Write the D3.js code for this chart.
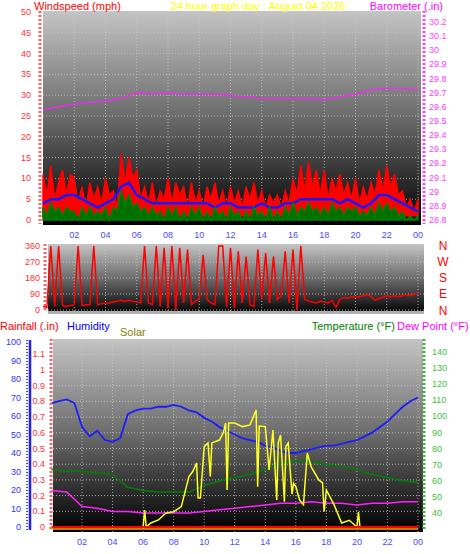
<!DOCTYPE html>
<html><head><meta charset="utf-8">
<script src="https://cdn.jsdelivr.net/npm/d3@7"></script>
<style>body{margin:0;background:#fff}svg{display:block;font-family:"Liberation Sans",Arial,sans-serif}</style>
</head><body><svg id="c" width="470" height="554"></svg>
<script>
// hours labels
const hourTicks = [2,4,6,8,10,12,14,16,18,20,22,24]
const hourLabels = ["02","04","06","08","10","12","14","16","18","20","22","00"]

// wind gust (mph), every 15 min
const gust = [11,6,13,5, 9,12,6,11, 10,4,8,3, 9,5,8,4, 10,6,7,3, 16,9,15,10, 12,5,8,4, 9,3,7,5,
  10,4,9,6, 8,3,9,4, 7,3,8,5, 9,4,7,3, 8,4,7,3, 8,5,9,4, 7,3,6,4, 6,3,7,4,
  10,6,13,7, 14,8,12,6, 12,5,10,7, 11,6,9,5, 10,4,8,5, 9,6,12,7, 13,8,11,6, 7,3,5,2, 5]
// wind speed (mph), every 15 min
const windSpeed = [3,1,4,2, 3,1,3,2, 2,0,3,1, 3,1,2,1, 3,0,3,2, 7,4,6,3, 4,2,3,1, 3,1,2,0,
  3,1,3,0, 2,0,3,1, 3,0,2,0, 3,1,2,0, 3,1,2,0, 2,0,3,1, 2,0,3,0, 2,0,3,1,
  4,1,3,2, 4,2,3,1, 3,1,4,2, 3,1,3,2, 3,1,2,1, 3,1,4,2, 4,2,3,1, 2,0,1,0, 1]
// average wind (mph), every 30 min
const windAvg = [4,5,5,6,6,5,4,3,4,5, 8,9,6,5,4,4,4,4,4,4, 4,4,3,4,4,3,3,3,4,3,
  3,4,4,5,5,5,5,5,4,5, 4,3,4,6,6,5,4,3,2]
// barometer (in), hourly
const baro = [29.58,29.60,29.62,29.63,29.64,29.66,29.70,29.69,29.70,29.69,29.69,29.69,29.68,
  29.67,29.66,29.66,29.66,29.66,29.65,29.67,29.69,29.72,29.73,29.73,29.72]
// wind direction (deg), every 15 min
const windDir = [20,15,360,20, 360,25,20,25, 30,360,25,30, 30,360,30,35, 40,40,45,50, 55,50,55,50,
  45,40,360,40, 30,360,20,350, 10,360,0,350, 40,340,30,50, 60,310,60,40, 30,360,360,20,
  350,10,330,40, 300,30,20,340, 60,320,40,300, 60,80,330,40, 340,0,360,60,
  50,45,40,50, 45,40,55,15, 60,70,65,75, 70,75,80,85, 75,55,65,70, 80,75,80,75, 80,85,80,90, 95]
// humidity (%), every 30 min
const humidity = [67,68,69,67,54,49,52,47,46,48, 61,63,64,64,65,65,66,65,63,62,
  59,57,54,52,50,48,47,46,44,43, 41,40,40,41,42,43,44,44,45,46, 47,49,51,54,57,61,65,68,70]
// temperature and dew point (F), hourly
const temperature = [67,66,66,65,64,56,54,53,53,53,57,60,62,64,67,71,72,72,70,69,67,64,62,60,59]
const dewPoint = [54,53,44,43,41,41,40,40,40,40,41,42,43,44,45,46,46,47,46,46,45,46,46,47,47]
// solar (W/m2): hour, value
const solarHours = [0,6,6.1,6.2,6.5,7,7.5,8,8.5,9,9.25,9.5,9.6,9.75,10,10.25,10.4,10.5,11,11.25,11.4,11.5,11.6,12,12.5,13,13.4,13.5,13.6,14,14.25,14.5,14.75,14.85,15,15.25,15.35,15.5,15.75,15.85,16,16.25,16.5,16.75,17,17.5,17.75,17.85,18,18.5,19,19.5,20,20.1,20.2,24]
const solarValues = [0,0,100,0,24,42,83,91,121,300,330,380,172,172,478,500,300,500,517,560,618,220,618,618,597,607,696,240,600,597,339,577,160,500,547,150,480,500,196,260,240,160,133,440,359,280,262,91,220,133,24,40,0,90,0,0]

const svg = d3.select("#c")
const defs = svg.append("defs")
const grad = defs.append("linearGradient").attr("id", "bg").attr("x1", 0).attr("y1", 0).attr("x2", 0).attr("y2", 1)
grad.append("stop").attr("offset", "0%").attr("stop-color", "#c4c4c4")
grad.append("stop").attr("offset", "50%").attr("stop-color", "#6a6a6a")
grad.append("stop").attr("offset", "100%").attr("stop-color", "#000")

const q = i => i / 4, h2 = i => i / 2, h1 = i => i

function panel(x0, x1, y0, y1, xs, gridY) {
    svg.append("rect").attr("x", x0).attr("y", y0).attr("width", x1 - x0).attr("height", y1 - y0).attr("fill", "url(#bg)")
    const g = svg.append("g").attr("stroke", "#c8c8c8").attr("stroke-dasharray", "1,2").attr("stroke-width", 1).attr("opacity", 0.8)
    hourTicks.forEach(t => g.append("line").attr("x1", xs(t)).attr("x2", xs(t)).attr("y1", y0).attr("y2", y1))
    gridY.forEach(y => g.append("line").attr("x1", x0).attr("x2", x1).attr("y1", y).attr("y2", y))
}
function dottedAxis(x, y0, y1, color) {
    svg.append("line").attr("x1", x).attr("x2", x).attr("y1", y0).attr("y2", y1)
        .attr("stroke", color).attr("stroke-width", 3).attr("stroke-dasharray", "2,2")
}
function labels(scale, ticks, x, anchor, color, fmt) {
    svg.append("g").selectAll("text").data(ticks).join("text")
        .attr("x", x).attr("y", d => scale(d) + 3).attr("text-anchor", anchor)
        .attr("fill", color).attr("font-size", 9).text(fmt || (d => d))
}
function hourLabelRow(xs, y) {
    svg.append("g").selectAll("text").data(hourTicks).join("text")
        .attr("x", d => xs(d)).attr("y", y).attr("text-anchor", "middle")
        .attr("fill", "#4a4aff").attr("font-size", 9).text((d, i) => hourLabels[i])
}
function text(x, y, s, color, anchor, size) {
    svg.append("text").attr("x", x).attr("y", y).attr("fill", color).attr("font-size", size || 11)
        .attr("text-anchor", anchor || "start").text(s)
}

// ---------- panel 1: wind + barometer
const x1s = d3.scaleLinear().domain([0, 24]).range([43, 418])
const windY = d3.scaleLinear().domain([0, 50]).range([220, 12])
const baroY = d3.scaleLinear().domain([28.8, 30.2]).range([220, 22])
panel(43, 421, 11, 225, x1s, d3.range(0, 51, 5).map(windY))
svg.append("rect").attr("x", 43).attr("y", 219).attr("width", 378).attr("height", 6).attr("fill", "#000")
svg.append("path").datum(gust).attr("fill", "#ff0000").attr("stroke", "#ff0000").attr("stroke-width", 1.5)
    .attr("d", d3.area().x((d, i) => x1s(q(i))).y0(windY(1)).y1(d => windY(d)))
svg.append("path").datum(windAvg).attr("fill", "none").attr("stroke", "#1818ff").attr("stroke-width", 2.5)
    .attr("d", d3.line().x((d, i) => x1s(h2(i))).y(d => windY(d)))
svg.append("path").datum(windSpeed).attr("fill", "#007000").attr("stroke", "#008000").attr("stroke-width", 1.5)
    .attr("d", d3.area().x((d, i) => x1s(q(i))).y0(windY(0)).y1(d => windY(d)))
svg.append("path").datum(baro).attr("fill", "none").attr("stroke", "#ff20ff").attr("stroke-width", 1.3)
    .attr("d", d3.line().x((d, i) => x1s(h1(i))).y(d => baroY(d)))
dottedAxis(40, 11, 224, "#ff6060")
dottedAxis(424, 11, 224, "#ff40ff")
labels(windY, d3.range(0, 51, 5), 31, "end", "#ff3030")
labels(baroY, d3.range(0, 15).map(i => +(28.8 + i * 0.1).toFixed(1)), 429, "start", "#ff40ff", d => d % 1 === 0 ? d : d.toFixed(1))
hourLabelRow(x1s, 238)
text(34, 10, "Windspeed (mph)", "#ff0000")
text(258, 10, "24 hour graph day : August 04 2026", "#ffff00", "middle")
text(443, 10, "Barometer (.in)", "#ff00ff", "end")

// ---------- panel 2: wind direction
const dirY = d3.scaleLinear().domain([0, 360]).range([310, 246])
panel(48, 424, 244, 314, x1s, [0, 90, 180, 270, 360].map(dirY))
svg.append("rect").attr("x", 48).attr("y", 311).attr("width", 376).attr("height", 3).attr("fill", "#b0b0b0")
svg.append("path").datum(windDir).attr("fill", "none").attr("stroke", "#ff0000").attr("stroke-width", 1.5)
    .attr("d", d3.line().x((d, i) => x1s(q(i))).y(d => dirY(d)))
dottedAxis(45, 244, 312, "#ff6060")
labels(dirY, [0, 90, 180, 270, 360], 40, "end", "#ff3030")
const compass = ["N", "W", "S", "E", "N"]
compass.forEach((c, i) => text(443, [250, 266, 282, 298, 315][i], c, "#ff0000", "middle", 12))

// ---------- panel 3: rain, humidity, solar, temperature
const x3s = d3.scaleLinear().domain([0, 24]).range([51.5, 418])
const humY = d3.scaleLinear().domain([0, 100]).range([527, 342])
const rainY = d3.scaleLinear().domain([0, 1]).range([527, 370])
const tempY = d3.scaleLinear().domain([40, 140]).range([513, 352])
const solarY = d3.scaleLinear().domain([0, 1100]).range([527, 342])
panel(53, 423, 339, 532, x3s, d3.range(0, 1.11, 0.1).map(rainY))
svg.append("path").datum(temperature).attr("fill", "none").attr("stroke", "#008000").attr("stroke-width", 1.5)
    .attr("d", d3.line().x((d, i) => x3s(i)).y(d => tempY(d)))
svg.append("path").datum(dewPoint).attr("fill", "none").attr("stroke", "#ff20ff").attr("stroke-width", 1.5)
    .attr("d", d3.line().x((d, i) => x3s(i)).y(d => tempY(d)))
svg.append("path").datum(humidity).attr("fill", "none").attr("stroke", "#1c1cff").attr("stroke-width", 1.8)
    .attr("d", d3.line().x((d, i) => x3s(h2(i))).y(d => humY(d)))
svg.append("path").datum(solarValues).attr("fill", "none").attr("stroke", "#ffff20").attr("stroke-width", 1.5)
    .attr("d", d3.line().x((d, i) => x3s(solarHours[i])).y(d => solarY(d)))
svg.append("line").attr("x1", x3s(0)).attr("x2", x3s(24)).attr("y1", rainY(0)).attr("y2", rainY(0)).attr("stroke", "#ff0000").attr("stroke-width", 2)
svg.append("line").attr("x1", x3s(0)).attr("x2", x3s(24)).attr("y1", rainY(0) + 2).attr("y2", rainY(0) + 2).attr("stroke", "#ffa000").attr("stroke-width", 1.5)
svg.append("line").attr("x1", 30).attr("x2", 30).attr("y1", 340).attr("y2", 530).attr("stroke", "#2020ff").attr("stroke-width", 2.5)
svg.append("line").attr("x1", 27).attr("x2", 27).attr("y1", 340).attr("y2", 530).attr("stroke", "#4040ff").attr("stroke-width", 2).attr("stroke-dasharray", "1,2")
dottedAxis(51, 339, 530, "#ff6060")
dottedAxis(424, 339, 530, "#40b040")
labels(humY, d3.range(0, 101, 10), 21, "end", "#3030ff")
labels(rainY, d3.range(0, 12).map(i => +(i / 10).toFixed(1)), 45, "end", "#ff3030")
labels(tempY, d3.range(40, 141, 10), 432, "start", "#40c040")
hourLabelRow(x3s, 545)
text(0, 330, "Rainfall (.in)", "#ff0000")
text(67, 330, "Humidity", "#0000ff")
text(120, 336, "Solar", "#808000")
text(395, 330, "Temperature (°F)", "#008000", "end")
text(397, 330, "Dew Point (°F)", "#ff00ff")
</script></body></html>
